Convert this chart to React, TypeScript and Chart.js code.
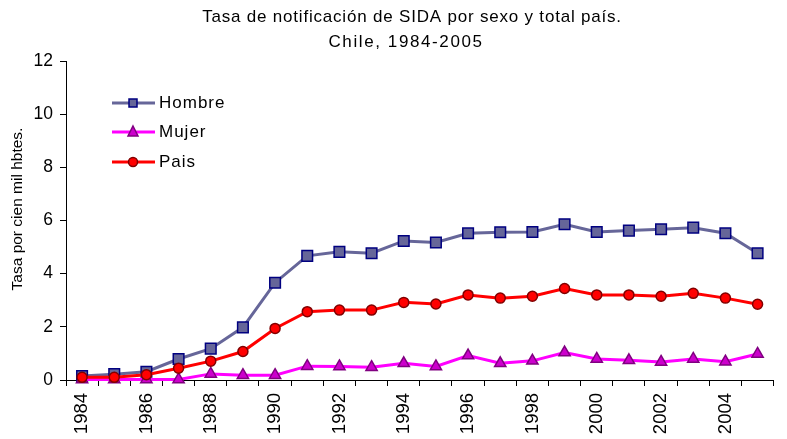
import React, { useEffect, useRef } from "react";
import { Chart, registerables } from "chart.js";

Chart.register(...registerables);

const years = ["1984","1985","1986","1987","1988","1989","1990","1991","1992","1993","1994","1995","1996","1997","1998","1999","2000","2001","2002","2003","2004","2005"];
const hombre = [0.15,0.22,0.31,0.79,1.18,1.98,3.66,4.67,4.82,4.77,5.23,5.17,5.52,5.56,5.57,5.86,5.57,5.62,5.67,5.73,5.52,4.77];
const mujer = [0.02,0.02,0.02,0.02,0.23,0.18,0.18,0.52,0.51,0.48,0.63,0.51,0.92,0.63,0.72,1.03,0.79,0.74,0.68,0.79,0.69,0.98];
const pais = [0.1,0.1,0.2,0.44,0.71,1.07,1.94,2.57,2.63,2.63,2.92,2.86,3.2,3.08,3.15,3.44,3.2,3.2,3.15,3.26,3.08,2.85];
const yTicks = [0, 2, 4, 6, 8, 10, 12];
const titleLines = ["Tasa de notificación de SIDA por sexo y total país.", "Chile, 1984-2005"];
const yTitle = "Tasa por cien mil hbtes.";

const FONT = "'Liberation Sans', Arial, sans-serif";

const titlePlugin = {
  id: "customTitle",
  afterDraw(chart: any) {
    const ctx = chart.ctx;
    ctx.save();
    ctx.fillStyle = "#000";
    ctx.font = `17px ${FONT}`;
    ctx.textAlign = "center";
    ctx.textBaseline = "middle";
    ctx.letterSpacing = "0.8px";
    ctx.fillText(titleLines[0], 412, 17);
    ctx.letterSpacing = "1.6px";
    ctx.fillText(titleLines[1], 406, 42);
    ctx.restore();
    ctx.save();
    ctx.translate(18, 209);
    ctx.rotate(-Math.PI / 2);
    ctx.fillStyle = "#000";
    ctx.font = `15.5px ${FONT}`;
    ctx.textAlign = "center";
    ctx.textBaseline = "middle";
    ctx.fillText(yTitle, 0, 0);
    ctx.restore();
  },
};

const legendPlugin = {
  id: "customLegend",
  afterDraw(chart: any) {
    const ctx = chart.ctx;
    const ys = [103, 132, 162];
    chart.data.datasets.forEach((ds: any, i: number) => {
      const y = ys[i];
      ctx.save();
      ctx.strokeStyle = ds.borderColor;
      ctx.lineWidth = 3;
      ctx.beginPath();
      ctx.moveTo(112, y);
      ctx.lineTo(155, y);
      ctx.stroke();
      ctx.fillStyle = ds.pointBackgroundColor;
      ctx.strokeStyle = ds.pointBorderColor;
      ctx.lineWidth = 1.5;
      const cx = 133;
      ctx.beginPath();
      if (ds.pointStyle === "rect") {
        ctx.rect(cx - 4, y - 4, 8, 8);
      } else if (ds.pointStyle === "triangle") {
        ctx.moveTo(cx, y - 6);
        ctx.lineTo(cx + 5, y + 4);
        ctx.lineTo(cx - 5, y + 4);
        ctx.closePath();
      } else {
        ctx.arc(cx, y, 4.5, 0, Math.PI * 2);
      }
      ctx.fill();
      ctx.stroke();
      ctx.fillStyle = "#000";
      ctx.font = `17px ${FONT}`;
      ctx.letterSpacing = "1px";
      ctx.textAlign = "left";
      ctx.textBaseline = "middle";
      ctx.fillText(ds.label, 159, y);
      ctx.restore();
    });
  },
};

export default function App() {
  const ref = useRef<HTMLCanvasElement>(null);
  useEffect(() => {
    if (!ref.current) return;
    const chart = new Chart(ref.current, {
      type: "line",
      data: {
        labels: years,
        datasets: [
          {
            label: "Hombre",
            data: hombre,
            borderColor: "#666699",
            borderWidth: 3,
            pointStyle: "rect",
            pointRadius: 7.5,
            pointBackgroundColor: "#666699",
            pointBorderColor: "#000080",
            pointBorderWidth: 1.5,
            tension: 0,
            clip: false,
            order: 2,
          } as any,
          {
            label: "Mujer",
            data: mujer,
            borderColor: "#FF00FF",
            borderWidth: 3,
            pointStyle: "triangle",
            pointRadius: 6.5,
            pointBackgroundColor: "#CC00CC",
            pointBorderColor: "#800080",
            pointBorderWidth: 1.5,
            tension: 0,
            clip: false,
            order: 1,
          } as any,
          {
            label: "Pais",
            data: pais,
            borderColor: "#FF0000",
            borderWidth: 3,
            pointStyle: "circle",
            pointRadius: 5,
            pointBackgroundColor: "#FF0000",
            pointBorderColor: "#800000",
            pointBorderWidth: 1.5,
            tension: 0,
            clip: false,
            order: 0,
          } as any,
        ],
      },
      options: {
        animation: false,
        responsive: false,
        layout: { padding: { top: 61, right: 10, left: 0, bottom: 0 } },
        plugins: {
          legend: { display: false },
          title: { display: false },
          tooltip: { enabled: false },
        },
        scales: {
          x: {
            type: "category",
            offset: true,
            afterFit: (s: any) => { s.height = 59; },
            grid: {
              offset: true,
              drawOnChartArea: false,
              drawTicks: true,
              tickLength: 6,
              color: "#000",
            },
            border: { color: "#000", width: 1 },
            ticks: {
              autoSkip: false,
              maxRotation: 90,
              minRotation: 90,
              color: "#000",
              padding: 7,
              font: { family: FONT, size: 18.5 },
              callback: (_v: any, i: number) => (Number(years[i]) % 2 === 0 ? years[i] : ""),
            },
          },
          y: {
            min: 0,
            max: 12,
            afterFit: (s: any) => { s.width = 66; },
            afterBuildTicks: (s: any) => { s.ticks = yTicks.map((v) => ({ value: v })); },
            grid: {
              drawOnChartArea: false,
              drawTicks: true,
              tickLength: 6,
              color: "#000",
            },
            border: { color: "#000", width: 1 },
            ticks: {
              color: "#000",
              padding: 7,
              font: { family: FONT, size: 17.5 },
            },
            title: { display: false },
          },
        },
      },
      plugins: [titlePlugin, legendPlugin],
    } as any);
    return () => chart.destroy();
  }, []);
  return (
    <div style={{ position: "fixed", left: 0, top: 0, width: 787, height: 439, background: "#fff" }}>
      <canvas ref={ref} width={787} height={439} style={{ width: 787, height: 439 }} />
    </div>
  );
}
